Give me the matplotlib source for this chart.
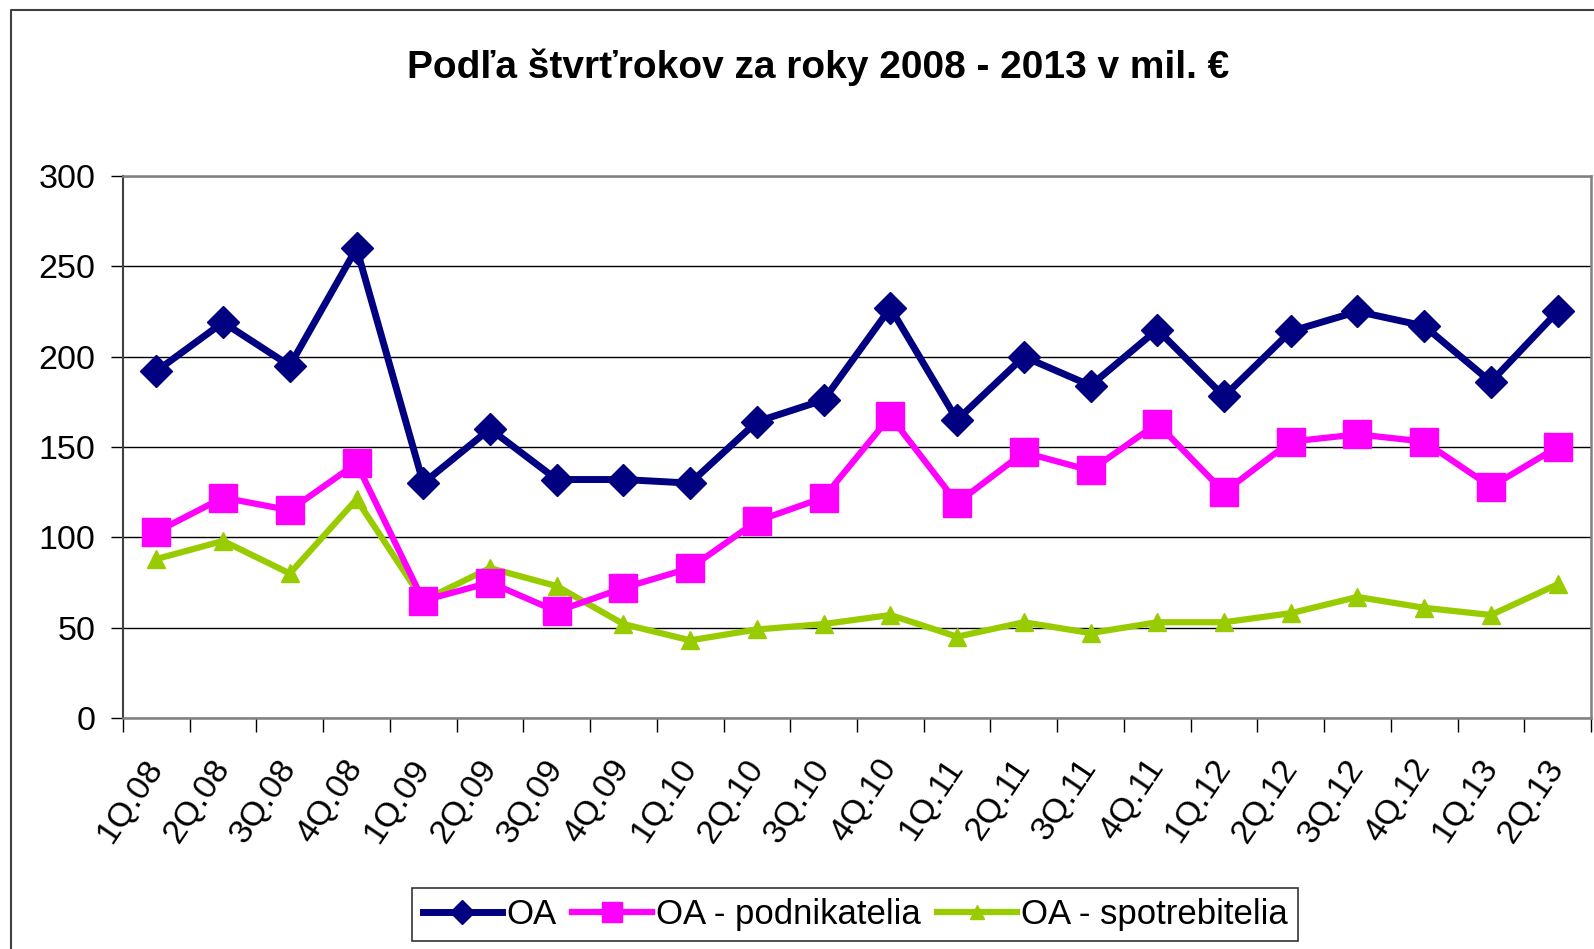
import matplotlib
matplotlib.use("Agg")
import matplotlib.pyplot as plt
from matplotlib.lines import Line2D
import numpy as np

categories = ["1Q.08", "2Q.08", "3Q.08", "4Q.08", "1Q.09", "2Q.09", "3Q.09", "4Q.09",
              "1Q.10", "2Q.10", "3Q.10", "4Q.10", "1Q.11", "2Q.11", "3Q.11", "4Q.11",
              "1Q.12", "2Q.12", "3Q.12", "4Q.12", "1Q.13", "2Q.13"]
oa = [192, 219, 195, 260, 130, 160, 132, 132, 130, 164, 176, 227, 165, 200, 184, 215,
      178, 214, 225, 217, 186, 225]
oa_podnikatelia = [103, 122, 115, 141, 65, 75, 59, 72, 83, 109, 122, 167, 119, 147, 137, 163,
                   125, 153, 157, 153, 128, 150]
oa_spotrebitelia = [88, 98, 80, 121, 65, 83, 73, 52, 43, 49, 52, 57, 45, 53, 47, 53,
                    53, 58, 67, 61, 57, 74]
series_names = ["OA", "OA - podnikatelia", "OA - spotrebitelia"]
title = "Podľa štvrťrokov za roky 2008 - 2013 v mil. €"
yticks = [0, 50, 100, 150, 200, 250, 300]

plt.rcParams['font.family'] = ['Liberation Sans', 'DejaVu Sans']

W, H = 1594, 949
fig = plt.figure(figsize=(W / 100, H / 100), dpi=100)
fig.patch.set_facecolor("white")

# outer chart border (only left and top visible)
fig.add_artist(Line2D([11 / W, 11 / W, 1.05], [-0.05, 1 - 10 / H, 1 - 10 / H],
                      transform=fig.transFigure, color="#404040", lw=1.5))

ax = fig.add_axes([123 / W, 1 - 718 / H, (1591 - 123) / W, (718 - 176) / H])
x = np.arange(len(categories))

ax.plot(x, oa, color="#000080", lw=5, marker="D", ms=16, mec="#000080", mfc="#000080",
        label=series_names[0], zorder=5, solid_joinstyle="miter")
ax.plot(x, oa_podnikatelia, color="#FF00FF", lw=4.5, marker="s", ms=20, mec="#FF00FF",
        mfc="#FF00FF", label=series_names[1], zorder=4, solid_joinstyle="miter")
ax.plot(x, oa_spotrebitelia, color="#99CC00", lw=4.5, marker="^", ms=13, mec="#99CC00",
        mfc="#99CC00", label=series_names[2], zorder=3, solid_joinstyle="miter")

ax.set_xlim(-0.5, len(categories) - 0.5)
ax.set_ylim(0, 300)
ax.set_yticks(yticks)
ax.set_yticklabels([str(v) for v in yticks], fontsize=24.5)
ax.tick_params(axis="y", length=9, width=1, pad=11, color="black")
ax.yaxis.grid(True, color="black", lw=1)
ax.set_axisbelow(True)

# x: tick marks at category boundaries, labels at centers
ax.set_xticks(np.arange(-0.5, len(categories), 1.0))
ax.set_xticklabels([])
ax.tick_params(axis="x", which="major", length=10, width=1, color="black")
ax.set_xticks(x, minor=True)
ax.set_xticklabels(categories, minor=True, fontsize=24.5)
ax.tick_params(axis="x", which="minor", length=0, pad=32)
for lbl in ax.get_xticklabels(minor=True):
    lbl.set_rotation(56)
    lbl.set_rotation_mode("anchor")
    lbl.set_ha("right")
    lbl.set_va("center")

for side in ["top", "right", "bottom"]:
    ax.spines[side].set_color("#808080")
    ax.spines[side].set_linewidth(1.8)
ax.spines["left"].set_color("#404040")
ax.spines["left"].set_linewidth(1.5)

fig.text(818 / W, 1 - 67 / H, title, ha="center", va="center", fontsize=28,
         fontweight="bold")

leg = fig.legend(loc="center", bbox_to_anchor=(855 / W, 1 - 914.5 / H), ncol=3,
                 fontsize=25, frameon=True, fancybox=False, edgecolor="black",
                 handlelength=2.3, handletextpad=0.12, columnspacing=0.45,
                 borderpad=0.3, numpoints=1, borderaxespad=0)
leg.get_frame().set_linewidth(1.2)
for h, s in zip(leg.legend_handles, [12, 15, 10]):
    h.set_markersize(s)

fig.savefig("out.png", dpi=100, facecolor="white")
